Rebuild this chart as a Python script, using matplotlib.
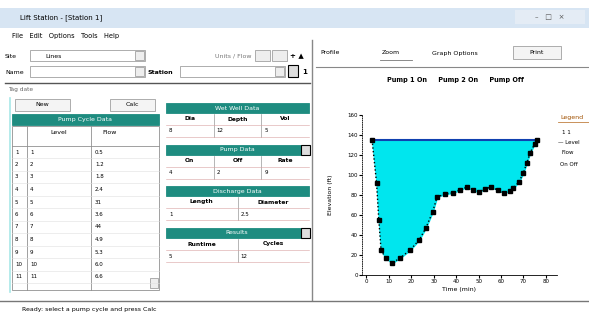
import matplotlib.pyplot as plt
from matplotlib.patches import Rectangle

# chart data
time_min = [2.5, 4.5, 5.5, 6.5, 8.5, 11.5, 15, 19.5, 23.5, 26.5, 29.5, 31.5, 35, 38.5,
            41.5, 45, 47.5, 50, 53, 55.5, 58.5, 61.5, 64, 65.5, 68, 70, 71.5, 73, 75, 76]
level_ft = [135, 92, 55, 25, 17, 12, 17, 25, 35, 47, 63, 78, 81, 82,
            85, 88, 85, 83, 86, 88, 85, 82, 84, 87, 93, 102, 112, 122, 131, 135]
top_level = 135
x_ticks = [0, 10, 20, 30, 40, 50, 60, 70, 80]
y_ticks = [0, 20, 40, 60, 80, 100, 120, 140, 160]

table_level = ['1', '2', '3', '4', '5', '6', '7', '8', '9', '10', '11']
table_flow = ['0.5', '1.2', '1.8', '2.4', '31', '3.6', '44', '4.9', '5.3', '6.0', '6.6']

W, H = 589, 320
TEAL = '#1e8c80'
fig = plt.figure(figsize=(W / 100, H / 100), dpi=100)
ui = fig.add_axes([0, 0, 1, 1])
ui.set_xlim(0, W)
ui.set_ylim(H, 0)
ui.axis('off')

def box(x, y, w, h, fc='white', ec='#a0a0a0', lw=0.6, z=1):
    ui.add_patch(Rectangle((x, y), w, h, facecolor=fc, edgecolor=ec, lw=lw, zorder=z))

def txt(x, y, s, size=4.5, color='black', ha='left', **kw):
    ui.text(x, y, s, fontsize=size, color=color, ha=ha, va='center', **kw)

# window background
box(0, 0, W, H, fc='white', ec='none')
box(0, 8, W, 20, fc='#d7e5f3', ec='none')
txt(20, 18, 'Lift Station - [Station 1]', size=5)
box(515, 10, 70, 14, fc='#e4ecf5', ec='none')
txt(550, 17, '\u2013   \u25a1   \u00d7', size=5, ha='center', color='#555555')

# menu
txt(12, 36, 'File   Edit   Options   Tools   Help', size=4.8)

# toolbar rows
txt(5, 56, 'Site', size=4.5)
box(30, 50, 115, 11)
txt(45, 56, 'Lines', size=4.5)
box(135, 51, 9, 9, fc='#eeeeee')
txt(215, 56, 'Units / Flow', size=4.5, color='#777777')
box(255, 50, 15, 11, fc='#eeeeee')
box(272, 50, 15, 11, fc='#eeeeee')
txt(290, 56, '+ \u25b2', size=5, weight='bold')
txt(5, 72, 'Name', size=4.5)
box(30, 66, 115, 11)
box(135, 67, 9, 9, fc='#eeeeee')
txt(148, 72, 'Station', size=4.5, weight='bold')
box(180, 66, 105, 11)
box(275, 67, 9, 9, fc='#eeeeee')
box(288, 65, 10, 12, fc='#dddddd', ec='black', lw=0.8)
txt(302, 72, '1', size=5, weight='bold')
ui.plot([5, 310], [83, 83], color='#555555', lw=1)
txt(8, 90, 'Tag date', size=4.2, color='#666666')

# left pane
ui.plot([10, 10], [98, 292], color='#a8e8e8', lw=1.2)
box(15, 99, 55, 12, fc='#f4f4f4')
txt(42, 105, 'New', size=4.5, ha='center')
box(110, 99, 45, 12, fc='#f4f4f4')
txt(132, 105, 'Calc', size=4.5, ha='center')
box(12, 114, 147, 11, fc=TEAL, ec=TEAL)
txt(85, 119.5, 'Pump Cycle Data', size=4.5, color='white', ha='center')
box(12, 126, 147, 164, fc='white', ec='#909090')
ui.plot([27, 27], [126, 290], color='#909090', lw=0.6)
ui.plot([91, 91], [126, 290], color='#909090', lw=0.6)
ui.plot([12, 159], [146, 146], color='#909090', lw=0.6)
txt(59, 132, 'Level', size=4.5, ha='center')
txt(110, 132, 'Flow', size=4.5, ha='center')
for i, (lv, fl) in enumerate(zip(table_level, table_flow)):
    yy = 152 + i * 12.5
    ui.plot([12, 159], [yy + 6, yy + 6], color='#e0e0e0', lw=0.4)
    txt(15, yy, str(i + 1), size=4)
    txt(30, yy, lv, size=4)
    txt(95, yy, fl, size=4)
box(150, 278, 8, 10, fc='#eeeeee')

# middle pane groups
groups = [
    (103, 'Wet Well Data', ['Dia', 'Depth', 'Vol'], ['8', '12', '5']),
    (145, 'Pump Data', ['On', 'Off', 'Rate'], ['4', '2', '9']),
    (186, 'Discharge Data', ['Length', 'Diameter'], ['1', '2.5']),
    (228, 'Results', ['Runtime', 'Cycles'], ['5', '12']),
]
for gy, title, cols, vals in groups:
    box(166, gy, 143, 10, fc=TEAL, ec=TEAL)
    txt(237, gy + 5, title, size=4.5, color='white', ha='center')
    n = len(cols)
    cw = 143 / n
    for j, (c, v) in enumerate(zip(cols, vals)):
        cx = 166 + j * cw
        txt(cx + cw / 2, gy + 16, c, size=4.3, ha='center', weight='bold')
        txt(cx + 3, gy + 28, v, size=4)
        if j > 0:
            ui.plot([cx, cx], [gy + 11, gy + 34], color='#999999', lw=0.5)
    ui.plot([166, 309], [gy + 22, gy + 22], color='#d9a0a0', lw=0.4)
    ui.plot([166, 309], [gy + 34, gy + 34], color='#d9a0a0', lw=0.4)
for gy in (145, 228):
    box(301, gy, 9, 10, fc='#dddddd', ec='black', lw=0.8)

# splitter
ui.plot([312, 312], [40, 300], color='#888888', lw=1)

# right pane toolbar
txt(320, 53, 'Profile', size=4.5)
txt(382, 53, 'Zoom', size=4.5)
ui.plot([380, 412], [60, 60], color='#777777', lw=0.6)
txt(432, 53, 'Graph Options', size=4.5)
box(513, 46, 48, 13, fc='#f4f4f4')
txt(537, 53, 'Print', size=4.5, ha='center')
ui.plot([316, 589], [67, 67], color='#888888', lw=0.8)
txt(455, 80, 'Pump 1 On     Pump 2 On     Pump Off', size=4.7, ha='center', weight='bold')

# legend
txt(560, 117, 'Legend', size=4.5, color='#a05000')
ui.plot([558, 589], [122, 122], color='#c08040', lw=0.6)
txt(562, 132, '1 1', size=4)
txt(558, 143, '\u2014 Level', size=4)
txt(562, 152, 'Flow', size=4)
txt(560, 164, 'On Off', size=4)

# status bar
ui.plot([0, W], [301, 301], color='#777777', lw=1)
txt(22, 310, 'Ready: select a pump cycle and press Calc', size=4.5)

# chart
ax = fig.add_axes([362 / W, 1 - 275 / H, (557 - 362) / W, (275 - 115) / H])
ax.fill_between(time_min, level_ft, top_level, color='#00e6ee', zorder=1)
ax.plot([time_min[0], time_min[-1]], [top_level, top_level], color='#1040b0', lw=1.5, zorder=2)
ax.plot(time_min, level_ft, color='black', ls=':', lw=1, marker='s', ms=2.2, zorder=3)
ax.set_xlim(-2, 85)
ax.set_ylim(0, 160)
ax.set_xticks(x_ticks)
ax.set_yticks(y_ticks)
ax.tick_params(labelsize=4, length=2, pad=1)
for s in ('top', 'right'):
    ax.spines[s].set_visible(False)
ax.spines['left'].set_linestyle(':')
ax.spines['left'].set_linewidth(0.6)
ax.spines['bottom'].set_linewidth(0.6)
ax.set_facecolor('none')
ax.set_xlabel('Time (min)', fontsize=4.5, labelpad=2)
ax.set_ylabel('Elevation (ft)', fontsize=4.5, labelpad=10)

fig.savefig('out.png', dpi=100)
